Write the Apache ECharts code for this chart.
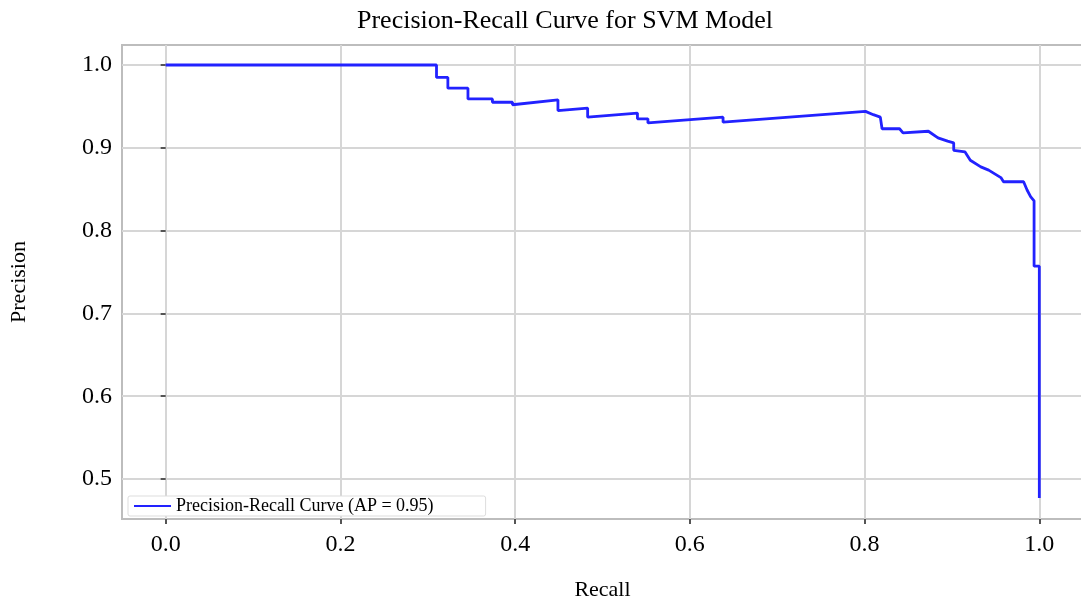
<!DOCTYPE html>
<html>
<head>
<meta charset="utf-8">
<script src="https://cdn.jsdelivr.net/npm/echarts@6/dist/echarts.min.js"></script>
<style>
html,body{margin:0;padding:0;background:#fff;}
#chart{width:1081px;height:603px;}
</style>
</head>
<body>
<div id="chart"></div>
<script>
const titleText = 'Precision-Recall Curve for SVM Model';
const seriesName = 'Precision-Recall Curve (AP = 0.95)';
const xTicks = [0, 0.2, 0.4, 0.6, 0.8, 1.0];
const yTicks = [0.5, 0.6, 0.7, 0.8, 0.9, 1.0];
const recall = [0, 0.310, 0.310, 0.323, 0.323, 0.346, 0.346, 0.374, 0.374, 0.397, 0.397, 0.449, 0.449, 0.483, 0.483, 0.540, 0.540, 0.552, 0.552, 0.638, 0.638, 0.801, 0.810, 0.818, 0.820, 0.840, 0.844, 0.873, 0.884, 0.895, 0.902, 0.902, 0.915, 0.921, 0.933, 0.942, 0.956, 0.959, 0.982, 0.986, 0.990, 0.994, 0.994, 1.0, 1.0];
const precision = [1.0, 1.0, 0.985, 0.985, 0.972, 0.972, 0.959, 0.959, 0.955, 0.955, 0.952, 0.958, 0.945, 0.948, 0.937, 0.942, 0.935, 0.935, 0.930, 0.937, 0.931, 0.944, 0.940, 0.937, 0.923, 0.923, 0.918, 0.920, 0.912, 0.908, 0.906, 0.897, 0.895, 0.885, 0.877, 0.873, 0.864, 0.859, 0.859, 0.849, 0.841, 0.836, 0.757, 0.757, 0.477];

const points = recall.map((r, i) => [r, precision[i]]);
const font = 'Liberation Serif, Times New Roman, serif';
const chart = echarts.init(document.getElementById('chart'), null, {renderer: 'canvas'});
chart.setOption({
  animation: false,
  backgroundColor: '#ffffff',
  title: {
    text: titleText, left: 352, top: 3,
    textStyle: {fontFamily: font, fontSize: 26, fontWeight: 'normal', color: '#000'}
  },
  legend: {
    data: [seriesName], left: 128, top: 496, orient: 'horizontal',
    itemWidth: 37, itemHeight: 10, itemGap: 4,
    padding: [1, 52, 1, 6],
    backgroundColor: '#fff', borderColor: '#dddddd', borderWidth: 1, borderRadius: 2,
    textStyle: {fontFamily: font, fontSize: 18, color: '#000'},
    icon: 'path://M0,4 L37,4 L37,6 L0,6 Z'
  },
  grid: {left: 122, right: -2, top: 45, bottom: 84, show: true, borderColor: '#bdbdbd', borderWidth: 2,
    outerBoundsMode: 'none', containLabel: false},
  xAxis: {
    type: 'value', min: -0.05, max: 1.05,
    name: 'Recall', nameLocation: 'middle', nameGap: 60,
    nameTextStyle: {fontFamily: font, fontSize: 22, color: '#000'},
    axisLine: {show: false},
    axisTick: {show: true, length: 5, customValues: xTicks, lineStyle: {color: '#555', width: 2}},
    axisLabel: {customValues: xTicks, margin: 14, fontFamily: font, fontSize: 24, color: '#000',
      formatter: v => v.toFixed(1)},
    splitLine: {show: true, lineStyle: {color: '#d6d6d6', width: 2}}
  },
  yAxis: {
    type: 'value', min: 0.4517, max: 1.02415,
    name: 'Precision', nameLocation: 'middle', nameGap: 92, nameRotate: 90,
    nameTextStyle: {fontFamily: font, fontSize: 22, color: '#000'},
    axisLine: {show: false},
    axisTick: {show: true, length: 5, customValues: yTicks, lineStyle: {color: '#555', width: 2}},
    axisLabel: {customValues: yTicks, margin: 10, fontFamily: font, fontSize: 24, color: '#000',
      formatter: v => v.toFixed(1)},
    splitLine: {show: true, lineStyle: {color: '#d6d6d6', width: 2}}
  },
  series: [{
    name: seriesName, type: 'line', data: points, showSymbol: false, symbol: 'none',
    lineStyle: {color: '#2222ff', width: 2.8}, itemStyle: {color: '#2222ff'}, z: 5
  }]
});
</script>
</body>
</html>
